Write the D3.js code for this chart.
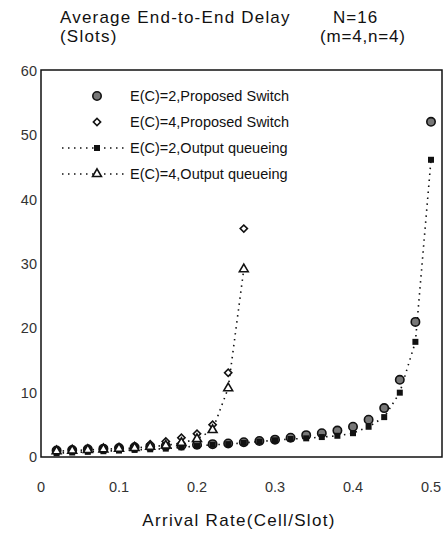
<!DOCTYPE html>
<html><head><meta charset="utf-8">
<script src="https://cdn.jsdelivr.net/npm/d3@7"></script>
<style>body{margin:0;background:#fff}svg{display:block}text{font-family:"Liberation Sans",Arial,sans-serif;fill:#111}</style>
</head><body><svg id="c" width="444" height="536"></svg>
<script>
const arrivalRate = [0.02,0.04,0.06,0.08,0.10,0.12,0.14,0.16,0.18,0.20,0.22,0.24,0.26,0.28,0.30,0.32,0.34,0.36,0.38,0.40,0.42,0.44,0.46,0.48,0.50];
const ec2Proposed = [1.0,1.1,1.2,1.3,1.4,1.5,1.6,1.7,1.8,1.9,2.0,2.1,2.3,2.5,2.7,3.0,3.4,3.7,4.1,4.7,5.8,7.6,12.0,21.0,52.1];
const ec2Output   = [0.6,0.7,0.8,0.9,1.0,1.1,1.2,1.3,1.5,1.7,1.9,2.0,2.2,2.4,2.6,2.8,2.9,3.1,3.3,3.7,4.7,6.2,10.0,17.9,46.2];
const rate4 = arrivalRate.slice(0,13);
const ec4Proposed = [1.1,1.2,1.3,1.4,1.5,1.7,2.0,2.4,3.0,3.6,5.0,13.1,35.5];
const ec4Output   = [0.9,1.0,1.1,1.2,1.3,1.4,1.6,1.8,2.2,2.8,4.2,10.7,29.2];
const xTicks = [0,0.1,0.2,0.3,0.4,0.5];
const yTicks = [0,10,20,30,40,50,60];
const legendLabels = ["E(C)=2,Proposed Switch","E(C)=4,Proposed Switch","E(C)=2,Output queueing","E(C)=4,Output queueing"];

const svg = d3.select("#c");
const x = d3.scaleLinear().domain([0,0.5]).range([41,431]);
const y = d3.scaleLinear().domain([0,60]).range([457,71]);

// frame
svg.append("rect").attr("x",41).attr("y",70).attr("width",401).attr("height",387)
  .attr("fill","none").attr("stroke","#111").attr("stroke-width",1.5);

// tick labels
svg.selectAll(".yt").data(yTicks).enter().append("text")
  .attr("x",37).attr("y",d=>y(d)+5).attr("text-anchor","end").attr("font-size",14.5).style("fill","#333").text(d=>d);
svg.selectAll(".xt").data(xTicks).enter().append("text")
  .attr("x",d=>x(d)).attr("y",492).attr("text-anchor","middle").attr("font-size",14.5).style("fill","#333").text(d=>d);

// titles
const T = (tx,ty,s,fs,ls)=>svg.append("text").attr("x",tx).attr("y",ty).attr("font-size",fs).style("letter-spacing",ls+"px").text(s);
T(60,23,"Average End-to-End Delay",17,1.2);
T(60,42,"(Slots)",17,1.2);
T(333,23,"N=16",17,1);
T(320,42,"(m=4,n=4)",17,0.8);
svg.append("text").attr("x",239).attr("y",526).attr("text-anchor","middle").attr("font-size",17)
  .style("letter-spacing","1.3px").text("Arrival Rate(Cell/Slot)");

const line = d3.line().x(d=>x(d[0])).y(d=>y(d[1]));
const dotStyle = s => s.attr("fill","none").attr("stroke","#111").attr("stroke-width",1.6).attr("stroke-dasharray","1.5,4.5");
svg.append("path").datum(arrivalRate.map((r,i)=>[r,ec2Output[i]])).attr("d",line).call(dotStyle);
svg.append("path").datum(rate4.map((r,i)=>[r,ec4Output[i]])).attr("d",line).call(dotStyle);

const sq = d3.symbol().type(d3.symbolSquare).size(36)();
const tri = d3.symbol().type(d3.symbolTriangle).size(34)();
const dia = d3.symbol().type(d3.symbolSquare).size(26)();

function drawCircle(g){ g.attr("r",4.2).attr("fill","#777").attr("stroke","#111").attr("stroke-width",1.6); }
function drawDia(g){ g.attr("d",dia).attr("fill","#fff").attr("stroke","#111").attr("stroke-width",1.6); }
function drawSq(g){ g.attr("d",sq).attr("fill","#111"); }
function drawTri(g){ g.attr("d",tri).attr("fill","#fff").attr("stroke","#111").attr("stroke-width",1.6); }

svg.selectAll(".c2").data(arrivalRate.map((r,i)=>[r,ec2Proposed[i]])).enter().append("circle")
  .attr("cx",d=>x(d[0])).attr("cy",d=>y(d[1])).call(drawCircle);
svg.selectAll(".d4").data(rate4.map((r,i)=>[r,ec4Proposed[i]])).enter().append("path")
  .attr("transform",d=>`translate(${x(d[0])},${y(d[1])}) rotate(45)`).call(drawDia);
svg.selectAll(".s2").data(arrivalRate.map((r,i)=>[r,ec2Output[i]])).enter().append("path")
  .attr("transform",d=>`translate(${x(d[0])},${y(d[1])})`).call(drawSq);
svg.selectAll(".t4").data(rate4.map((r,i)=>[r,ec4Output[i]])).enter().append("path")
  .attr("transform",d=>`translate(${x(d[0])},${y(d[1])})`).call(drawTri);

// legend
const ly = [96,122,148,174];
const mx = 97;
legendLabels.forEach((lab,i)=>{
  if(i>=2){
    svg.append("line").attr("x1",62).attr("x2",128).attr("y1",ly[i]).attr("y2",ly[i]).call(dotStyle);
  }
  if(i===0) svg.append("circle").attr("cx",mx).attr("cy",ly[i]).call(drawCircle);
  if(i===1) svg.append("path").attr("transform",`translate(${mx},${ly[i]}) rotate(45)`).call(drawDia);
  if(i===2) svg.append("path").attr("transform",`translate(${mx},${ly[i]})`).call(drawSq);
  if(i===3) svg.append("path").attr("transform",`translate(${mx},${ly[i]})`).call(drawTri);
  svg.append("text").attr("x",130).attr("y",ly[i]+5).attr("font-size",14.5).text(lab);
});
</script></body></html>
